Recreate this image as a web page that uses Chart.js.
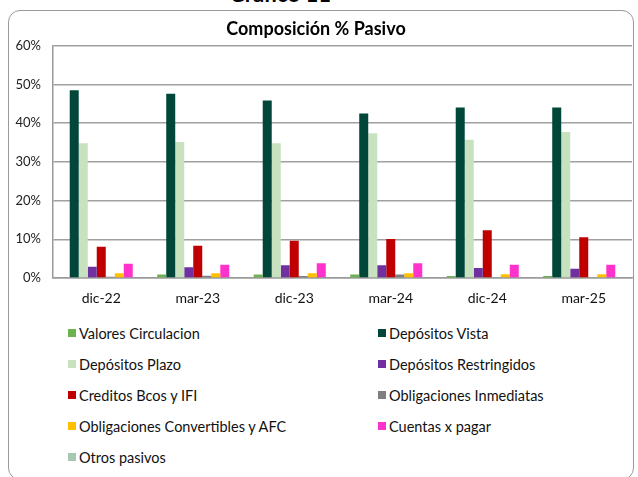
<!DOCTYPE html>
<html>
<head>
<meta charset="utf-8">
<script src="https://cdn.jsdelivr.net/npm/chart.js@4.4.1/dist/chart.umd.min.js"></script>
<style>
  body { margin: 0; background: #fff; font-family: Lato, "Open Sans", sans-serif; }
  #wrap { position: relative; width: 638px; height: 477px; overflow: hidden; }
  #frame { position: absolute; left: 8px; top: 10px; right: 4px; height: 470px;
           border: 1.5px solid #9a9a9a; border-radius: 12px; box-sizing: border-box; }
  #sup { position: absolute; left: 0; width: 560px; top: -17px; text-align: center;
         font-weight: bold; font-size: 22px; line-height: 22px; color: #000; }
  #cv { position: absolute; left: 0; top: 0; }
  .lg { position: absolute; display: flex; align-items: center; font-size: 14.5px; color: #111;
        height: 20px; margin-top: -10px; white-space: nowrap; }
  .lg span.box { width: 8px; height: 8px; margin-right: 3px; display: inline-block; }
</style>
</head>
<body>
<div id="wrap">
  <div id="frame"></div>
  <div id="sup">Gráfico 11</div>
  <canvas id="cv" width="638" height="310"></canvas>
  <div id="legend"></div>
</div>
<script>
const labels = ["dic-22", "mar-23", "dic-23", "mar-24", "dic-24", "mar-25"];

const valores = [0, 0.9, 0.9, 0.9, 0.5, 0.5];
const vista = [48.5, 47.6, 45.8, 42.5, 44.0, 44.0];
const plazo = [34.8, 35.1, 34.8, 37.4, 35.7, 37.7];
const restringidos = [2.9, 2.8, 3.3, 3.3, 2.6, 2.4];
const creditos = [8.1, 8.3, 9.6, 10.1, 12.3, 10.5];
const obligInmediatas = [0.3, 0.6, 0.5, 0.9, 0, 0];
const obligConvertibles = [1.2, 1.2, 1.2, 1.2, 1.0, 1.0];
const cuentas = [3.7, 3.4, 3.8, 3.8, 3.4, 3.4];
const otros = [0, 0, 0, 0, 0, 0];

const yTicks = [0, 10, 20, 30, 40, 50, 60];

function ds(label, data, color) {
  return {
    label: label,
    data: data,
    backgroundColor: color,
    borderWidth: 0,
    categoryPercentage: 0.84,
    barPercentage: 1.0,
  };
}

const data = {
  labels: labels,
  datasets: [
    ds("Valores Circulacion", valores, "#6cb250"),
    ds("Depósitos Vista", vista, "#00473a"),
    ds("Depósitos Plazo", plazo, "#c8e2c0"),
    ds("Depósitos Restringidos", restringidos, "#7030a0"),
    ds("Creditos Bcos y IFI", creditos, "#c00000"),
    ds("Obligaciones Inmediatas", obligInmediatas, "#7f7f7f"),
    ds("Obligaciones Convertibles y AFC", obligConvertibles, "#ffc000"),
    ds("Cuentas x pagar", cuentas, "#ff33cc"),
    ds("Otros pasivos", otros, "#a9c8b0"),
  ],
};

const config = {
  type: "bar",
  data,
  options: {
    responsive: false,
    animation: false,
    layout: { padding: { left: 0, right: 6, top: 0, bottom: 0 } },
    scales: {
      x: {
        grid: { display: false },
        border: { display: true, color: "#9a9a9a", width: 1.5 },
        ticks: {
          color: "#111",
          padding: 4,
          font: { family: "Lato", size: 14 },
        },
        afterFit: function (s) { s.height = 32; },
      },
      y: {
        min: 0,
        max: 60,
        afterBuildTicks: function (s) {
          s.ticks = yTicks.map(function (v) { return { value: v }; });
        },
        grid: { color: "#a0a0a0", lineWidth: 1.5, drawTicks: false },
        border: { display: true, color: "#9a9a9a", width: 1.5 },
        ticks: {
          color: "#222",
          padding: 12,
          font: { family: "Lato", size: 13 },
          callback: function (v) { return v + "%"; },
        },
        afterFit: function (s) { s.width = 53; },
      },
    },
    plugins: {
      title: {
        display: true,
        text: "Composición % Pasivo",
        color: "#000",
        font: { family: "Lato", size: 18, weight: "bold" },
        padding: { top: 18, bottom: 6 },
      },
      legend: { display: false },
      tooltip: { enabled: false },
    },
  },
};

const myChart = new Chart(document.getElementById("cv"), config);

// legend in two columns, built from the datasets
const legend = document.getElementById("legend");
myChart.data.datasets.forEach(function (d, i) {
  const item = document.createElement("div");
  item.className = "lg";
  item.style.left = (i % 2 === 0 ? 68 : 378) + "px";
  item.style.top = (333 + 31 * Math.floor(i / 2)) + "px";
  const box = document.createElement("span");
  box.className = "box";
  box.style.background = d.backgroundColor;
  item.appendChild(box);
  item.appendChild(document.createTextNode(d.label));
  legend.appendChild(item);
});
</script>
</body>
</html>
